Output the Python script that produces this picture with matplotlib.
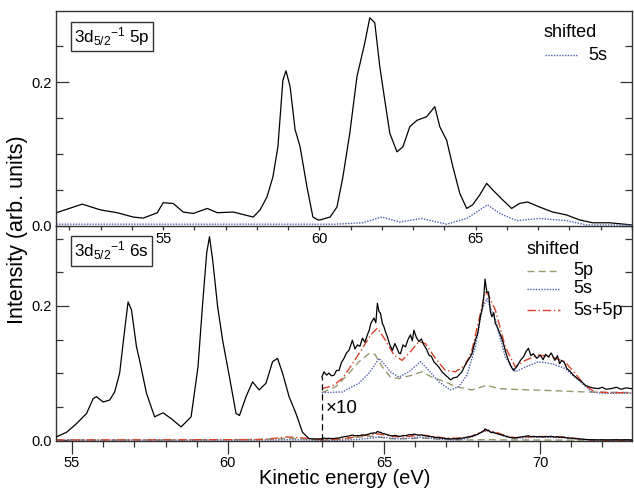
import numpy as np
import matplotlib
matplotlib.use("Agg")
import matplotlib.pyplot as plt
from matplotlib.ticker import MultipleLocator, FixedLocator

plt.rcParams['font.family'] = ['Liberation Sans', 'DejaVu Sans']
plt.rcParams['mathtext.fontset'] = 'custom'
plt.rcParams['mathtext.rm'] = 'Liberation Sans'
plt.rcParams['mathtext.it'] = 'Liberation Sans:italic'
plt.rcParams['mathtext.bf'] = 'Liberation Sans:bold'

# ---------------- data: top panel (3d5/2^-1 5p) ----------------
top_x = [51.58, 52.41, 52.99, 53.53, 54.04, 54.36, 54.81, 55.0, 55.32, 55.64, 55.96,
         56.41, 56.73, 57.24, 57.88, 58.10, 58.32, 58.51, 58.67, 58.83, 58.93, 59.06,
         59.22, 59.38, 59.60, 59.79, 59.95, 60.02, 60.34, 60.56, 60.75, 60.97, 61.20,
         61.36, 61.45, 61.61, 61.77, 61.93, 62.09, 62.25, 62.48, 62.67, 62.89, 63.12,
         63.43, 63.69, 63.85, 64.07, 64.27, 64.49, 64.71, 64.90, 65.13, 65.35, 65.54,
         65.86, 66.15, 66.40, 66.66, 67.04, 67.46, 67.90, 68.32, 68.74, 69.28, 70.0]
top_y = [0.018, 0.030, 0.022, 0.018, 0.012, 0.0105, 0.018, 0.032, 0.031, 0.019, 0.017,
         0.024, 0.018, 0.019, 0.012, 0.022, 0.040, 0.068, 0.110, 0.203, 0.216, 0.194,
         0.134, 0.110, 0.054, 0.012, 0.008, 0.008, 0.012, 0.026, 0.068, 0.129, 0.208,
         0.238, 0.255, 0.290, 0.283, 0.222, 0.175, 0.129, 0.103, 0.110, 0.138, 0.147,
         0.152, 0.166, 0.138, 0.119, 0.082, 0.045, 0.024, 0.029, 0.043, 0.059, 0.050,
         0.036, 0.024, 0.031, 0.033, 0.026, 0.019, 0.015, 0.008, 0.004, 0.004, 0.001]

top5s_x = [51.58, 55.0, 58.0, 60.5, 61.39, 62.0, 62.57, 63.27, 64.07, 64.71, 65.38,
           65.77, 66.31, 67.04, 67.90, 68.55, 70.0]
top5s_y = [0.002, 0.002, 0.002, 0.002, 0.004, 0.012, 0.005, 0.010, 0.002, 0.010, 0.029,
           0.017, 0.007, 0.010, 0.007, 0.001, 0.001]
top_xticks = [55, 60, 65]

# ---------------- data: bottom panel (3d5/2^-1 6s) ----------------
bot_x = [54.49, 54.83, 55.15, 55.47, 55.68, 55.79, 56.0, 56.21, 56.37, 56.53, 56.69,
         56.80, 56.91, 57.07, 57.17, 57.39, 57.65, 57.92, 58.19, 58.50, 58.82, 59.04,
         59.19, 59.32, 59.41, 59.51, 59.67, 59.83, 60.05, 60.26, 60.37, 60.58, 60.79,
         61.0, 61.22, 61.43, 61.59, 61.75, 61.96, 62.18, 62.39, 62.60, 62.85]
bot_y = [0.005, 0.012, 0.025, 0.040, 0.062, 0.065, 0.057, 0.060, 0.072, 0.100, 0.164,
         0.206, 0.194, 0.139, 0.119, 0.070, 0.035, 0.041, 0.032, 0.020, 0.035, 0.109,
         0.204, 0.279, 0.303, 0.269, 0.199, 0.149, 0.094, 0.040, 0.037, 0.065, 0.087,
         0.075, 0.085, 0.117, 0.122, 0.100, 0.065, 0.040, 0.012, 0.0025, 0.002]

# experimental, region magnified x10 (values x10)
hi_x = [63.01, 63.08, 63.16, 63.24, 63.32, 63.40, 63.48, 63.56, 63.64, 63.72, 63.80,
        63.88, 63.99, 64.07, 64.15, 64.23, 64.31, 64.39, 64.47, 64.53, 64.58, 64.68,
        64.74, 64.79, 64.84, 64.89, 64.95, 65.00, 65.06, 65.11, 65.19, 65.27, 65.35,
        65.42, 65.48, 65.53, 65.61, 65.69, 65.77, 65.85, 65.91, 65.96, 66.04, 66.12,
        66.20, 66.28, 66.36, 66.44, 66.52, 66.60, 66.68, 66.76, 66.86, 66.97, 67.05,
        67.13, 67.23, 67.34, 67.42, 67.50, 67.58, 67.66, 67.74, 67.82, 67.93, 68.01,
        68.09, 68.15, 68.20, 68.24, 68.30, 68.35, 68.41, 68.46, 68.52, 68.57, 68.62,
        68.67, 68.75, 68.83, 68.91, 68.99, 69.07, 69.15, 69.23, 69.31, 69.39, 69.47,
        69.55, 69.63, 69.71, 69.79, 69.90, 70.01, 70.10, 70.18, 70.27, 70.36, 70.48,
        70.56, 70.63, 70.70, 70.78, 70.86, 70.96, 71.07, 71.20, 71.34, 71.45, 71.55,
        71.70, 71.87, 72.00, 72.12, 72.29, 72.45, 72.60, 72.75, 72.93]
hi_y = [0.024, 0.032, 0.027, 0.030, 0.026, 0.027, 0.034, 0.034, 0.046, 0.052, 0.060,
        0.064, 0.079, 0.066, 0.072, 0.070, 0.082, 0.076, 0.087, 0.094, 0.104, 0.112,
        0.105, 0.134, 0.122, 0.119, 0.104, 0.099, 0.090, 0.084, 0.072, 0.064, 0.074,
        0.067, 0.060, 0.059, 0.072, 0.069, 0.080, 0.087, 0.078, 0.094, 0.083, 0.077,
        0.081, 0.072, 0.066, 0.057, 0.055, 0.047, 0.043, 0.039, 0.032, 0.027, 0.024,
        0.020, 0.023, 0.024, 0.028, 0.032, 0.040, 0.047, 0.052, 0.059, 0.079, 0.090,
        0.114, 0.126, 0.144, 0.170, 0.150, 0.151, 0.122, 0.114, 0.120, 0.104, 0.100,
        0.094, 0.085, 0.074, 0.060, 0.049, 0.040, 0.034, 0.038, 0.044, 0.050, 0.054,
        0.062, 0.067, 0.056, 0.059, 0.052, 0.057, 0.050, 0.058, 0.054, 0.060, 0.049,
        0.056, 0.044, 0.049, 0.046, 0.037, 0.033, 0.027, 0.022, 0.017, 0.012, 0.010,
        0.008, 0.007, 0.009, 0.006, 0.007, 0.009, 0.006, 0.008, 0.007]

# shifted reference spectra (lo: raw, x < 63;  hi: x10 values, x >= 63)
p5_lo_x = [54.49, 58.5, 59.5, 60.5, 61.5, 62.0, 62.5, 63.0]
p5_lo_y = [0.0005, 0.0005, 0.001, 0.001, 0.002, 0.003, 0.002, 0.0001]
p5_hi_x = [63.01, 63.46, 63.88, 64.20, 64.52, 64.71, 64.95, 65.21, 65.48, 65.90, 66.22,
           66.54, 66.97, 67.29, 67.82, 68.30, 68.67, 69.10, 70.38, 71.44, 72.93]
p5_hi_y = [0.001, 0.010, 0.030, 0.047, 0.059, 0.058, 0.039, 0.024, 0.022, 0.027, 0.032,
           0.024, 0.017, 0.010, 0.005, 0.012, 0.007, 0.006, 0.004, 0.002, 0.001]

s5_lo_x = [54.49, 60.0, 61.5, 62.0, 62.5, 63.0]
s5_lo_y = [0.0003, 0.0003, 0.0005, 0.001, 0.0005, 0.0001]
s5_hi_x = [63.01, 63.67, 64.20, 64.52, 64.73, 64.84, 65.00, 65.21, 65.48, 65.80, 66.17,
           66.44, 66.76, 67.13, 67.40, 67.66, 67.93, 68.14, 68.30, 68.57, 68.89, 69.21,
           69.53, 69.95, 70.38, 70.80, 71.23, 71.66, 72.00, 72.93]
s5_hi_y = [0.001, 0.002, 0.015, 0.030, 0.044, 0.052, 0.044, 0.032, 0.024, 0.032, 0.047,
           0.034, 0.017, 0.005, 0.010, 0.027, 0.069, 0.124, 0.141, 0.109, 0.054, 0.032,
           0.039, 0.047, 0.044, 0.037, 0.020, 0.002, 0.000, 0.000]

sp_lo_x = [54.49, 58.0, 60.0, 61.0, 61.5, 61.9, 62.3, 62.7, 63.0]
sp_lo_y = [0.0005, 0.0008, 0.001, 0.001, 0.003, 0.005, 0.004, 0.002, 0.0007]
sp_hi_x = [63.01, 63.35, 63.67, 63.99, 64.31, 64.58, 64.79, 65.05, 65.32, 65.58, 65.85,
           66.12, 66.33, 66.65, 66.97, 67.29, 67.61, 67.82, 68.09, 68.25, 68.35, 68.57,
           68.89, 69.21, 69.53, 69.95, 70.38, 70.80, 71.12, 71.44, 71.76, 72.20, 72.93]
sp_hi_y = [0.007, 0.011, 0.022, 0.044, 0.067, 0.087, 0.097, 0.079, 0.057, 0.049, 0.062,
           0.077, 0.074, 0.052, 0.034, 0.032, 0.042, 0.064, 0.119, 0.151, 0.146, 0.124,
           0.069, 0.039, 0.049, 0.057, 0.054, 0.047, 0.030, 0.012, 0.002, 0.001, 0.001]

OFFSET = 0.07
MAG = 10
CUT = 63.0

# ---------------- styles ----------------
C_BLUE = '#4f5fae'
C_RED = '#d9442a'
C_OLIVE = '#999970'
C_SPINE = '#333333'

fig = plt.figure(figsize=(6.34, 4.92), dpi=100)
L, R = 56 / 634, 632 / 634
ax2 = fig.add_axes([L, 1 - 441 / 492, R - L, (441 - 226) / 492])
ax1 = fig.add_axes([L, 1 - 226 / 492, R - L, (226 - 11) / 492])
ax1.set_zorder(5)
ax1.patch.set_visible(False)

for ax in (ax1, ax2):
    for s in ax.spines.values():
        s.set_color(C_SPINE)
        s.set_linewidth(1.0)
    ax.yaxis.set_major_locator(MultipleLocator(0.2))
    ax.yaxis.set_minor_locator(MultipleLocator(0.05))
    ax.xaxis.set_major_locator(MultipleLocator(5))
    ax.xaxis.set_minor_locator(MultipleLocator(1))
    ax.yaxis.set_major_formatter(matplotlib.ticker.FormatStrFormatter('%.1f'))
    ax.tick_params(axis='y', which='major', direction='in', length=9, width=0.9,
                   color=C_SPINE, labelsize=10.5, right=True, pad=3)
    ax.tick_params(axis='y', which='minor', direction='in', length=5, width=0.9,
                   color=C_SPINE, right=True)

ax1.xaxis.set_major_locator(FixedLocator(top_xticks))
ax2.spines['top'].set_visible(False)

ax1.tick_params(axis='x', which='both', direction='out', length=3, width=0.9,
                color=C_SPINE, labelsize=10.5, pad=1)
ax2.tick_params(axis='x', which='major', direction='out', length=9, width=0.9,
                color=C_SPINE, labelsize=10.5, pad=2)
ax2.tick_params(axis='x', which='minor', direction='out', length=4, width=0.9,
                color=C_SPINE)

# ---------------- top panel ----------------
ax1.plot(top_x, top_y, color='black', lw=0.9)
ax1.plot(top5s_x, top5s_y, color=C_BLUE, lw=1.0, ls=(0, (1, 1)))
ax1.set_xlim(51.57, 70.0)
ax1.set_ylim(-0.0005, 0.2995)

# ---------------- bottom panel ----------------
hi_x_a = np.array(hi_x)
hi_y_a = np.array(hi_y)
ax2.plot(np.r_[bot_x, hi_x_a], np.r_[bot_y, hi_y_a / MAG], color='black', lw=0.9, zorder=5)
ax2.plot(hi_x_a, OFFSET + hi_y_a, color='black', lw=0.9, zorder=5)

curves = [
    (p5_lo_x, p5_lo_y, p5_hi_x, p5_hi_y, C_OLIVE, (0, (5, 3)), '5p'),
    (s5_lo_x, s5_lo_y, s5_hi_x, s5_hi_y, C_BLUE, (0, (1, 1)), '5s'),
    (sp_lo_x, sp_lo_y, sp_hi_x, sp_hi_y, C_RED, (0, (6, 2, 1, 2)), '5s+5p'),
]
for lo_x, lo_y, h_x, h_y, col, ls, lab in curves:
    hx = np.array(h_x)
    hy = np.array(h_y)
    ax2.plot(np.r_[lo_x, hx], np.r_[lo_y, hy / MAG], color=col, lw=1.0, ls=ls)
    ax2.plot(hx, OFFSET + hy, color=col, lw=1.0, ls=ls)

# x10 marker
ax2.plot([CUT, CUT], [0, OFFSET + hi_y[0]], color='black', lw=0.9, ls=(0, (5, 3)))
ax2.text(CUT + 0.14, 0.048, '×10', fontsize=13.5, ha='left', va='center')

ax2.set_xlim(54.49, 72.95)
ax2.set_ylim(-0.001, 0.319)

# ---------------- panel labels ----------------
box = dict(boxstyle='square,pad=0.2', fc='white', ec=C_SPINE, lw=1.0)
ax1.text(0.0315, 0.881, r'3d$_{5/2}{}^{-1}$ 5p', transform=ax1.transAxes,
         fontsize=12.3, ha='left', va='center', bbox=box)
ax2.text(0.0315, 0.884, r'3d$_{5/2}{}^{-1}$ 6s', transform=ax2.transAxes,
         fontsize=12.3, ha='left', va='center', bbox=box)

# ---------------- legends (manual) ----------------
def legend_entry(ax, y, x0, x1, xt, col, ls, label):
    ax.plot([x0, x1], [y, y], transform=ax.transAxes, color=col, lw=1.0, ls=ls,
            clip_on=False)
    ax.text(xt, y, label, transform=ax.transAxes, fontsize=13, ha='left', va='center')

ax1.text(0.8455, 0.898, 'shifted', transform=ax1.transAxes, fontsize=13,
         ha='left', va='center')
legend_entry(ax1, 0.795, 0.849, 0.906, 0.924, C_BLUE, (0, (1, 1)), '5s')

ax2.text(0.8177, 0.893, 'shifted', transform=ax2.transAxes, fontsize=13,
         ha='left', va='center')
for (yy, (_, _, _, _, col, ls, lab)) in zip([0.791, 0.707, 0.609], curves):
    legend_entry(ax2, yy, 0.8177, 0.875, 0.8976, col, ls, lab)

# ---------------- axis labels ----------------
fig.text(18 / 634, 1 - 230 / 492, 'Intensity (arb. units)', rotation=90,
         ha='center', va='center', fontsize=15.5)
fig.text(345 / 634, 1 - 479 / 492, 'Kinetic energy (eV)', ha='center', va='center',
         fontsize=14.5)

fig.savefig('out.png', dpi=100)
